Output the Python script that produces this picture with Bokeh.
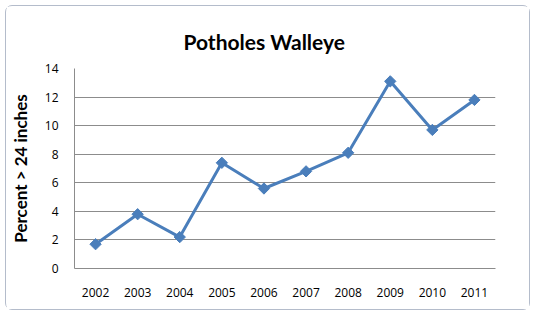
from bokeh.plotting import figure
from bokeh.models import FixedTicker, Range1d
from bokeh.embed import file_html
from bokeh.resources import INLINE

years = ["2002", "2003", "2004", "2005", "2006", "2007", "2008", "2009", "2010", "2011"]
percent = [1.7, 3.8, 2.2, 7.4, 5.6, 6.8, 8.1, 13.1, 9.7, 11.8]
y_ticks = [0, 2, 4, 6, 8, 10, 12, 14]

p = figure(x_range=years, y_range=Range1d(0, 14), width=525, height=305,
           output_backend="svg", toolbar_location=None,
           min_border_left=64, min_border_right=36, min_border_top=62, min_border_bottom=43)
p.styles = {"margin": "5px 0 0 5px", "border": "1px solid #b4bccb", "border-radius": "7px",
            "box-sizing": "border-box"}

p.title.text = "Potholes Walleye"
p.title.text_font = "Lato"
p.title.text_font_size = "21px"
p.title.text_font_style = "bold"
p.title.text_color = "#000000"
p.title.align = "left"
p.title.offset = 109
p.title.standoff = 30

p.line(years, percent, line_color="#4a7ebb", line_width=3)
p.scatter(years, percent, marker="square", angle=0.785398, size=8,
          fill_color="#4a7ebb", line_color="#4a7ebb")

p.xgrid.grid_line_color = None
p.ygrid.grid_line_color = "#8c8c8c"
p.ygrid.grid_line_width = 1
p.yaxis.ticker = FixedTicker(ticks=y_ticks)
p.outline_line_color = None

for ax in (p.xaxis, p.yaxis):
    ax.axis_line_color = "#8c8c8c"
    ax.major_tick_line_color = None
    ax.minor_tick_line_color = None
    ax.major_label_text_font = "Open Sans"
    ax.major_label_text_font_size = "12px"
    ax.major_label_text_color = "#000000"

p.xaxis.major_label_standoff = 13
p.yaxis.major_label_standoff = 10
p.yaxis.axis_label = "Percent > 24 inches"
p.yaxis.axis_label_text_font = "Lato"
p.yaxis.axis_label_text_font_size = "17px"
p.yaxis.axis_label_text_font_style = "bold"
p.yaxis.axis_label_text_color = "#000000"
p.yaxis.axis_label_standoff = 11

open("out.html", "w").write(file_html(p, INLINE))
